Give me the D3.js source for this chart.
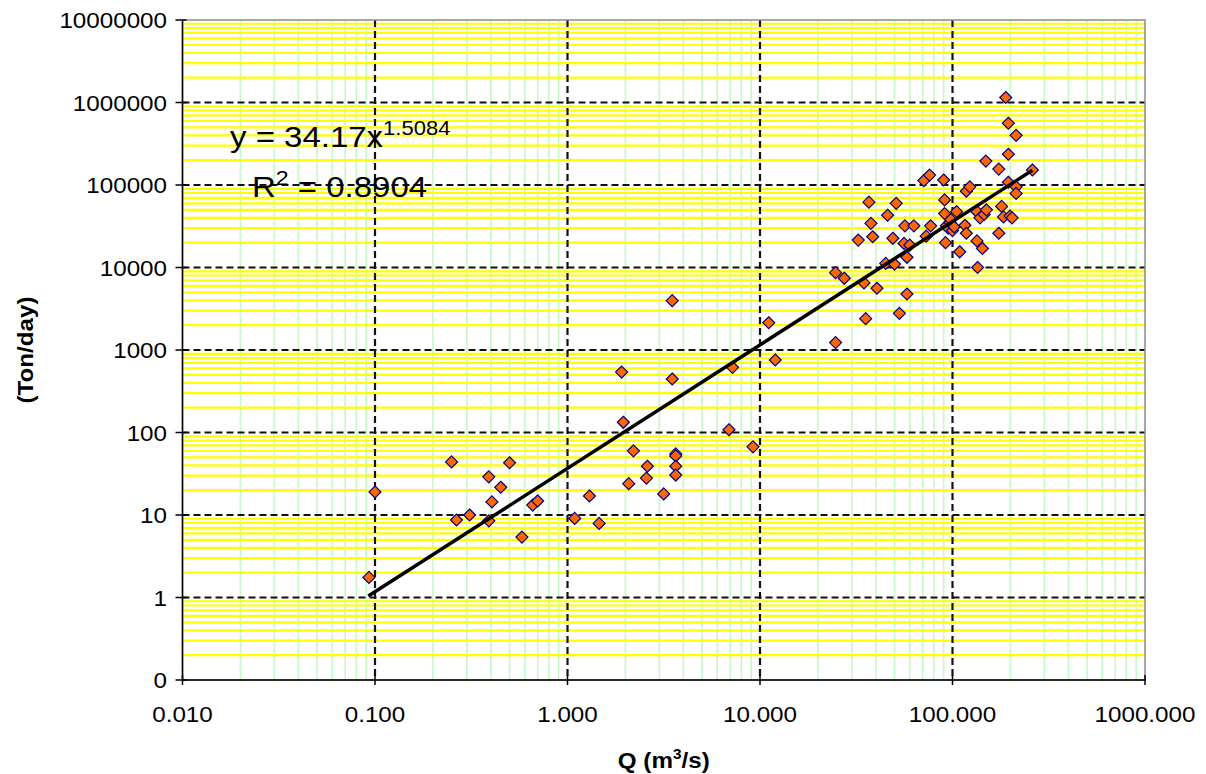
<!DOCTYPE html>
<html><head><meta charset="utf-8">
<script src="https://cdn.jsdelivr.net/npm/d3@7"></script>
<style>body{margin:0;background:#fff;} svg{display:block;font-family:Arial,"Liberation Sans",sans-serif;}</style>
</head><body><svg id="c" width="1206" height="774"></svg>
<script>
// ---- data ----
const xTicks = [0.01, 0.1, 1, 10, 100, 1000];
const xTickLabels = ["0.010", "0.100", "1.000", "10.000", "100.000", "1000.000"];
const yTicks = [0.1, 1, 10, 100, 1000, 10000, 100000, 1000000, 10000000];
const yTickLabels = ["0", "1", "10", "100", "1000", "10000", "100000", "1000000", "10000000"];
const qValues = [0.093,0.1,0.25,0.265,0.31,0.39,0.39,0.405,0.45,0.5,0.58,0.66,0.70,1.09,1.3,1.46,1.91,1.95,2.08,2.2,2.57,2.6,3.16,3.5,3.5,3.65,3.65,3.65,3.65,6.9,7.2,9.2,11.1,12,
  24.7,24.7,27.4,32.4,34.7,35.4,36.8,37.7,38.5,40.5,45,46,49,50,51,53,56,56.6,58,58,60,63,71,73,76,77,90,91,91,92,105,93,95,97,100,98,102,109,116,118,118,123,134,134,135,139,143,146,150,149,174,174,180,184,189,195,195,195,199,204,214,214,214,260];
const loadValues = [1.75,19,44,8.7,10,29,8.5,14.4,21.7,43,5.4,13.2,14.8,9.1,17,7.9,540,133,24,60,28,39,18,3960,445,55,52,39,30.5,108,617,67,2140,757,
  1230,8650,7400,21500,6500,2400,62000,34300,23600,5600,11200,43000,22600,11000,60000,2780,19600,32000,13300,4770,18700,32000,113000,24000,132000,32000,115000,66000,45000,20000,47500,32000,30000,35000,28000,38000,31000,15500,32500,26000,84000,95000,47500,21000,10000,40000,17000,44000,50000,195000,156000,26000,55000,41000,1150000,560000,236000,108000,42000,40000,400000,95000,79000,152000];
const trendQ = [0.0923, 260];
const trendLoad = [1.04, 151000];
const eqMain = "y = 34.17x", eqExp = "1.5084";
const r2Label = "R", r2Exp = "2", r2Value = " = 0.8904";
const xTitle = ["Q (m", "3", "/s)"];
const yTitle = "(Ton/day)";

// ---- layout ----
const W = 1206, H = 774;
const L = 182.5, R = 1145, T = 20, B = 680;
const SX = 1.1; // horizontal text stretch
const x = d3.scaleLog().domain([0.01, 1000]).range([L, R]);
const y = d3.scaleLog().domain([0.1, 1e7]).range([B, T]);
const svg = d3.select("#c");
svg.append("rect").attr("width", W).attr("height", H).attr("fill", "#fff");

const minorOf = ticks => d3.merge(ticks.slice(0, -1).map(d => d3.range(2, 10).map(k => d * k)));
const xMinor = minorOf(xTicks), yMinor = minorOf(yTicks);

// minor grid
svg.append("g").selectAll("line").data(xMinor).join("line")
  .attr("x1", d => x(d)).attr("x2", d => x(d)).attr("y1", T).attr("y2", B)
  .attr("stroke", "#c8f7c8").attr("stroke-width", 1.6);
svg.append("g").selectAll("line").data(yMinor).join("line")
  .attr("x1", L).attr("x2", R).attr("y1", d => y(d)).attr("y2", d => y(d))
  .attr("stroke", "#ffff00").attr("stroke-width", 2.2);

// major dashed grid
svg.append("g").selectAll("line").data(xTicks.slice(1, -1)).join("line")
  .attr("x1", d => x(d)).attr("x2", d => x(d)).attr("y1", T).attr("y2", B)
  .attr("stroke", "#111").attr("stroke-width", 2.2).attr("stroke-dasharray", "7,4");
svg.append("g").selectAll("line").data(yTicks.slice(1, -1)).join("line")
  .attr("x1", L).attr("x2", R).attr("y1", d => y(d)).attr("y2", d => y(d))
  .attr("stroke", "#111").attr("stroke-width", 2.2).attr("stroke-dasharray", "7,4");

// plot border
svg.append("rect").attr("x", L).attr("y", T).attr("width", R - L).attr("height", B - T)
  .attr("fill", "none").attr("stroke", "#8a8a8a").attr("stroke-width", 1.5);
// axes
svg.append("line").attr("x1", L).attr("x2", L).attr("y1", T).attr("y2", B).attr("stroke", "#000").attr("stroke-width", 1.5);
svg.append("line").attr("x1", L).attr("x2", R).attr("y1", B).attr("y2", B).attr("stroke", "#000").attr("stroke-width", 1.5);
svg.append("g").selectAll("line").data(yTicks).join("line")
  .attr("x1", L - 7).attr("x2", L + 4).attr("y1", d => y(d)).attr("y2", d => y(d))
  .attr("stroke", "#000").attr("stroke-width", 1.5);
svg.append("g").selectAll("line").data(xTicks).join("line")
  .attr("x1", d => x(d)).attr("x2", d => x(d)).attr("y1", B - 5).attr("y2", B + 5)
  .attr("stroke", "#000").attr("stroke-width", 1.5);

// tick labels
svg.append("g").selectAll("text").data(yTicks).join("text")
  .attr("transform", d => `translate(167,${y(d) + 8}) scale(${SX},1)`)
  .attr("text-anchor", "end").attr("font-size", 22).attr("fill", "#000")
  .text((d, i) => yTickLabels[i]);
svg.append("g").selectAll("text").data(xTicks).join("text")
  .attr("transform", d => `translate(${x(d)},722) scale(${SX},1)`)
  .attr("text-anchor", "middle").attr("font-size", 22).attr("fill", "#000")
  .text((d, i) => xTickLabels[i]);

// axis titles
const xt = svg.append("text").attr("transform", `translate(${(L + R) / 2},768) scale(${SX},1)`)
  .attr("text-anchor", "middle").attr("font-size", 22).attr("font-weight", "bold");
xt.append("tspan").text(xTitle[0]);
xt.append("tspan").attr("font-size", 14).attr("dy", -9).text(xTitle[1]);
xt.append("tspan").attr("dy", 9).text(xTitle[2]);
svg.append("text").attr("transform", `translate(33,${(T + B) / 2}) rotate(-90) scale(${SX},1)`)
  .attr("text-anchor", "middle").attr("font-size", 22).attr("font-weight", "bold").text(yTitle);

// data points
const pts = qValues.map((q, i) => [q, loadValues[i]]);
const s = 6;
svg.append("g").selectAll("path").data(pts).join("path")
  .attr("transform", d => `translate(${x(d[0])},${y(d[1])})`)
  .attr("d", `M0,${-s}L${s},0L0,${s}L${-s},0Z`)
  .attr("fill", "#ff6600").attr("stroke", "#000080").attr("stroke-width", 1.2);

// trend line
svg.append("path").datum(trendQ.map((q, i) => [q, trendLoad[i]]))
  .attr("d", d3.line().x(d => x(d[0])).y(d => y(d[1])))
  .attr("stroke", "#000").attr("stroke-width", 3.5).attr("fill", "none");

// equation
const eq = svg.append("text").attr("transform", `translate(230,147) scale(${SX},1)`).attr("font-size", 30).attr("fill", "#000");
eq.append("tspan").text(eqMain);
eq.append("tspan").attr("font-size", 20).attr("dy", -12).text(eqExp);
const r2 = svg.append("text").attr("transform", `translate(252,197) scale(${SX},1)`).attr("font-size", 30).attr("fill", "#000");
r2.append("tspan").text(r2Label);
r2.append("tspan").attr("font-size", 21).attr("dy", -12).text(r2Exp);
r2.append("tspan").attr("dy", 12).text(r2Value);
</script></body></html>
